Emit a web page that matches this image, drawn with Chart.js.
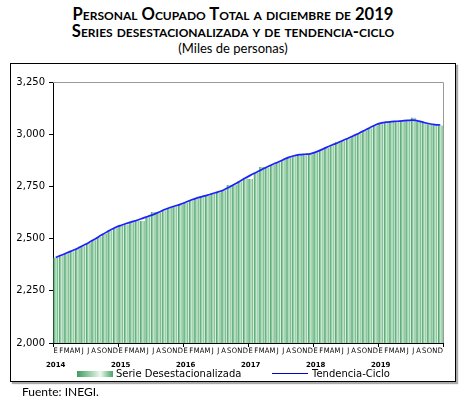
<!DOCTYPE html>
<html lang="es">
<head>
<meta charset="utf-8">
<title>Personal ocupado total</title>
<script src="https://cdn.jsdelivr.net/npm/chart.js@4.4.1/dist/chart.umd.min.js"></script>
<style>
  body { margin: 0; width: 466px; height: 404px; position: relative; background: #fff; overflow: hidden; }
  #titulo { position: absolute; top: 6px; left: 0; width: 466px; text-align: center; font-family: Lato, "Open Sans", sans-serif; color: #000; }
  #titulo .t { font-weight: bold; font-size: 16.6px; font-variant: small-caps; line-height: 17px; }
  #titulo .s { font-size: 13px; line-height: 17px; }
  #caja { position: absolute; left: 10px; top: 63px; width: 444px; height: 317px; border: 1px solid #000; box-shadow: 2px 2px 1px #aaa; }
  #grafica { display: block; }
  .leyenda { position: absolute; font-family: "DejaVu Sans", sans-serif; font-size: 10px; color: #000; line-height: 12px; }
  #muestraBarra { position: absolute; left: 77px; top: 371px; width: 36px; height: 6px;
    background: linear-gradient(to right, #3f9a5e 0%, #8cc79f 30%, #eef7ef 65%, #8cc79f 85%, #4aa36c 100%); }
  #muestraLinea { position: absolute; left: 272px; top: 373px; width: 36px; height: 1px; background: #0000cc; }
  #fuente { position: absolute; left: 22px; top: 384px; font-family: Lato, "Open Sans", sans-serif; font-size: 12px; }
</style>
</head>
<body>
<div id="titulo">
  <div class="t">Personal Ocupado Total a diciembre de 2019</div>
  <div class="t">Series desestacionalizada y de tendencia-ciclo</div>
  <div class="s">(Miles de personas)</div>
</div>
<div id="caja">
  <canvas id="grafica" width="444" height="317"></canvas>
</div>
<div id="muestraBarra"></div>
<div class="leyenda" style="left:116px; top:368px;">Serie Desestacionalizada</div>
<div id="muestraLinea"></div>
<div class="leyenda" style="left:312px; top:368px;">Tendencia-Ciclo</div>
<div id="fuente">Fuente: INEGI.</div>

<script>
const anios = [2014, 2015, 2016, 2017, 2018, 2019];
const iniciales = ["E", "F", "M", "A", "M", "J", "J", "A", "S", "O", "N", "D"];
const ticksY = [2000, 2250, 2500, 2750, 3000, 3250];

// Serie desestacionalizada (miles de personas), enero 2014 a diciembre 2019
const serieDesestacionalizada = [
  2408, 2419, 2430, 2440, 2452, 2463, 2478, 2492, 2508, 2523, 2538, 2551,
  2561, 2568, 2578, 2587, 2584, 2604, 2627, 2624, 2636, 2646, 2655, 2662,
  2672, 2683, 2692, 2703, 2706, 2714, 2722, 2731, 2757, 2758, 2773, 2788,
  2785, 2815, 2843, 2841, 2853, 2864, 2876, 2887, 2895, 2900, 2902, 2904,
  2912, 2923, 2935, 2946, 2963, 2968, 2979, 2991, 3003, 3016, 3029, 3042,
  3051, 3056, 3058, 3060, 3062, 3064, 3079, 3061, 3054, 3048, 3044, 3042
];

// Tendencia-ciclo
const tendenciaCiclo = [
  2410, 2420, 2431, 2442, 2453, 2466, 2479, 2494, 2510, 2525, 2540, 2553,
  2563, 2572, 2580, 2588, 2597, 2606, 2615, 2626, 2638, 2648, 2656, 2664,
  2674, 2685, 2694, 2701, 2708, 2716, 2724, 2733, 2746, 2760, 2775, 2790,
  2804, 2817, 2830, 2843, 2855, 2866, 2878, 2889, 2897, 2902, 2904, 2906,
  2914, 2925, 2937, 2948, 2958, 2970, 2981, 2993, 3005, 3018, 3031, 3044,
  3053, 3058, 3060, 3062, 3064, 3066, 3067, 3063, 3056, 3050, 3046, 3044
];

const etiquetas = [];
anios.forEach((anio) => {
  iniciales.forEach((mes) => etiquetas.push(mes));
});

const anchoBarra = 0.85;

function rellenoBarra(ctx) {
  const chart = ctx.chart;
  const x = chart.scales.x;
  if (!x || ctx.dataIndex === undefined || !x.width) return "#8cc79f";
  const centro = x.getPixelForValue(ctx.dataIndex);
  const ancho = (x.width / etiquetas.length) * anchoBarra;
  const g = chart.ctx.createLinearGradient(centro - ancho / 2, 0, centro + ancho / 2, 0);
  g.addColorStop(0, "#3b985b");
  g.addColorStop(0.28, "#7fc294");
  g.addColorStop(0.58, "#c8e7cf");
  g.addColorStop(0.82, "#9fd1ad");
  g.addColorStop(1, "#4ca46b");
  return g;
}

// borde gris superior y derecho del área de trazado
const bordeGris = {
  id: "bordeGris",
  afterDraw(chart) {
    const { ctx, chartArea: a } = chart;
    ctx.save();
    ctx.strokeStyle = "#9a9a9a";
    ctx.lineWidth = 1;
    ctx.beginPath();
    ctx.moveTo(a.left, Math.round(a.top) + 0.5);
    ctx.lineTo(Math.round(a.right) + 0.5, Math.round(a.top) + 0.5);
    ctx.lineTo(Math.round(a.right) + 0.5, a.bottom);
    ctx.stroke();
    ctx.restore();
  },
};

new Chart(document.getElementById("grafica"), {
  data: {
    labels: etiquetas,
    datasets: [
      {
        type: "line",
        label: "Tendencia-Ciclo",
        data: tendenciaCiclo,
        borderColor: "#2020ff",
        borderWidth: 1.7,
        pointRadius: 0,
        tension: 0.3,
        order: 0,
      },
      {
        type: "bar",
        label: "Serie Desestacionalizada",
        data: serieDesestacionalizada,
        backgroundColor: rellenoBarra,
        borderWidth: 0,
        barPercentage: anchoBarra,
        categoryPercentage: 1,
        order: 1,
      },
    ],
  },
  options: {
    responsive: false,
    animation: false,
    events: [],
    layout: { padding: { top: 18, right: 12, bottom: 9, left: 0 } },
    plugins: {
      legend: { display: false },
      tooltip: { enabled: false },
    },
    scales: {
      x: {
        type: "category",
        position: "bottom",
        weight: 0,
        afterFit(scale) { scale.height = 17; },
        border: { display: true, color: "#000", width: 1 },
        grid: {
          display: true,
          drawOnChartArea: false,
          drawTicks: true,
          tickLength: 4,
          tickWidth: 1,
          tickColor: (c) => (c.index === undefined || c.index % 12 === 0 ? "#000" : "rgba(0,0,0,0)"),
        },
        ticks: {
          autoSkip: false,
          maxRotation: 0,
          minRotation: 0,
          padding: 0,
          color: "#000",
          font: { family: "'DejaVu Sans Condensed', 'DejaVu Sans', sans-serif", size: 7.5 },
        },
      },
      x2: {
        type: "category",
        labels: etiquetas,
        position: "bottom",
        weight: 1,
        offset: true,
        afterFit(scale) { scale.height = 12; },
        border: { display: false },
        grid: { display: false, drawTicks: false },
        ticks: {
          autoSkip: false,
          maxRotation: 0,
          minRotation: 0,
          padding: 1,
          color: "#000",
          font: { family: "'DejaVu Sans', sans-serif", size: 7, weight: "bold" },
          callback: (valor, indice) => (indice % 12 === 0 ? String(anios[indice / 12]) : ""),
        },
      },
      y: {
        min: ticksY[0],
        max: ticksY[ticksY.length - 1],
        afterFit(scale) { scale.width = 42; },
        afterBuildTicks(scale) { scale.ticks = ticksY.map((v) => ({ value: v })); },
        border: { display: true, color: "#000", width: 1 },
        grid: {
          display: true,
          drawOnChartArea: false,
          drawTicks: true,
          tickLength: 4,
          tickColor: "#000",
        },
        ticks: {
          padding: 4,
          color: "#000",
          font: { family: "'DejaVu Sans', sans-serif", size: 10 },
          callback: (v) => v.toLocaleString("en-US"),
        },
      },
    },
  },
  plugins: [bordeGris],
});
</script>
</body>
</html>
